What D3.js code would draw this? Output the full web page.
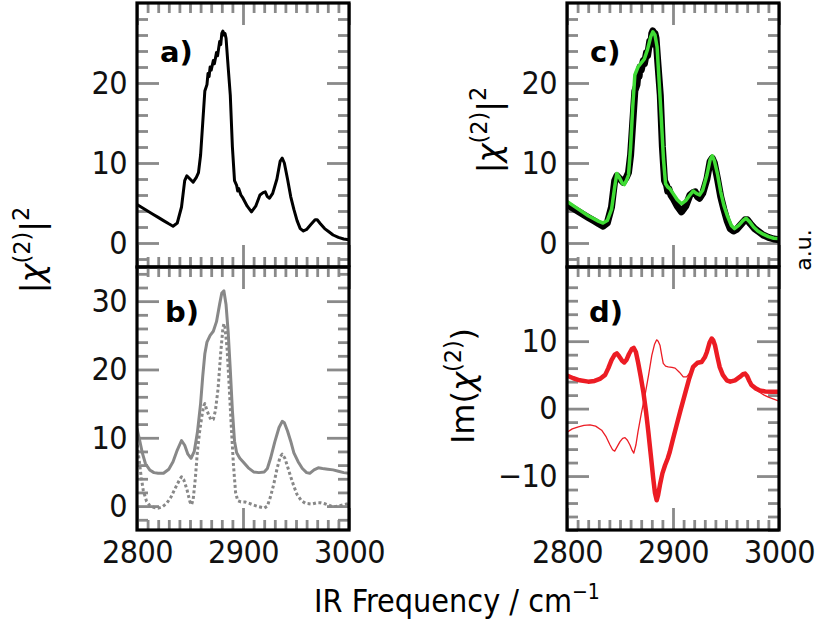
<!DOCTYPE html>
<html><head><meta charset="utf-8">
<script src="https://cdn.jsdelivr.net/npm/d3@7"></script>
<style>
body{margin:0;background:#fff;}
svg{display:block;}
</style></head>
<body>
<svg id="chart" width="815" height="626"></svg>
<script>
// ---- data ----
const xTicks = [2800, 2900, 3000];
const measuredFreq = [2800,2805,2810,2815,2820,2825,2830,2834,2838,2842,2845,2847,2850,2853,2856,2858,2860,2862,2864,2866,2867,2868,2869,2870,2872,2873,2875,2876,2878,2879,2880,2881,2882,2883,2884,2886,2888,2890,2892,2894,2895,2896,2898,2900,2904,2908,2912,2916,2919,2921,2923,2925,2928,2932,2935,2937,2939,2942,2945,2948,2951,2954,2957,2960,2964,2968,2970,2973,2977,2981,2985,2990,2995,3000];
const measuredVal = [4.8,4.4,4.0,3.6,3.2,2.8,2.4,2.1,2.5,4.5,7.8,8.4,8.0,7.6,8.2,8.8,11,15,19.0,19.8,21.2,20.8,22.0,21.6,22.8,22.4,23.8,23.4,25.2,24.8,26.2,26.5,26.0,26.2,25.6,22,18.5,12,7.8,7.2,6.5,6.8,6.0,5.6,4.6,3.9,4.6,6.0,6.3,6.4,5.8,5.6,6.2,8.0,10.2,10.6,10.0,8.0,5.8,4.2,2.8,1.8,1.5,1.7,2.3,2.9,2.9,2.4,1.8,1.4,1.0,0.7,0.5,0.4];

const fitFreq = [2800,2810,2820,2830,2834,2838,2842,2845,2847,2849,2852,2854,2856,2858,2860,2862,2864,2867,2870,2873,2876,2879,2881,2883,2885,2887,2889,2891,2893,2895,2897,2900,2904,2908,2912,2916,2919,2922,2925,2928,2932,2935,2937,2939,2942,2945,2948,2951,2955,2958,2962,2966,2969,2972,2976,2980,2985,2990,2995,3000];
const fitVal = [5.2,4.3,3.4,2.7,2.5,2.8,4.2,7.0,8.7,8.3,7.5,7.3,7.8,8.5,12,17,21.0,22.0,22.5,23.0,24.2,25.8,26.4,26.0,24.5,20,15.5,10.5,7.4,7.0,6.8,6.2,5.4,4.9,5.3,6.0,6.5,6.2,6.0,6.6,8.5,10.4,10.9,10.3,8.6,6.4,4.7,3.5,2.2,1.8,2.2,2.8,3.1,2.7,2.0,1.5,1.1,0.8,0.6,0.55];

const ampSolidFreq = [2800,2802,2805,2808,2812,2816,2820,2825,2830,2834,2838,2842,2845,2848,2851,2854,2857,2860,2862,2864,2866,2869,2872,2875,2878,2880,2882,2884,2886,2888,2890,2892,2894,2897,2900,2905,2910,2915,2920,2923,2926,2930,2934,2937,2939,2942,2945,2948,2952,2956,2960,2963,2967,2971,2975,2980,2985,2990,2995,3000];
const ampSolidVal = [11.3,10.0,7.8,6.2,5.3,4.9,4.8,4.8,5.4,6.5,8.2,9.6,8.9,7.6,7.0,8.0,10.8,15,19,22.3,24.0,25.0,25.6,27.0,29.6,31.2,31.5,29.5,25.5,20,14,9.5,7.8,7.0,6.5,5.6,5.0,4.9,5.0,5.5,7.0,9.4,11.5,12.4,12.2,11.0,9.5,7.8,6.5,5.5,4.9,4.8,5.3,5.6,5.5,5.4,5.3,5.1,4.9,4.8];

const ampDotFreq = [2800,2802,2804,2806,2809,2812,2816,2820,2824,2828,2832,2836,2840,2842,2844,2847,2850,2851.5,2853,2855,2857,2859,2861,2863,2864,2866,2868,2870,2872,2874,2876.5,2879,2881,2882,2883,2885,2887,2889,2891,2893,2895,2898,2902,2906,2910,2915,2920,2923,2926,2929,2932,2935,2937,2939.5,2942,2945,2948,2951,2955,2959,2965,2970,2973,2978,2985,2990,2995,3000];
const ampDotVal = [9.0,6.8,4.2,2.2,0.7,0.1,-0.2,-0.3,-0.1,0.4,1.3,2.6,3.8,4.3,3.9,2.5,0.6,0.2,1.0,4.0,8.0,10.8,13.0,14.7,15.0,14.0,13.2,12.6,12.7,14.0,17.2,22.5,26.0,26.7,26.2,23.0,17.5,11.5,6.0,2.0,0.8,0.6,0.6,0.4,0.15,-0.1,-0.3,0.0,1.4,3.2,5.4,7.2,7.6,7.0,5.8,4.3,2.9,1.7,0.8,0.4,0.3,0.5,0.5,0.3,-0.1,0.0,0.2,0.4];

const imFitFreq = [2800,2806,2812,2820,2826,2831,2836,2839,2842,2845,2847,2849,2852,2854,2856,2858.5,2861,2863,2865,2867,2869.5,2872,2874.5,2876.7,2879,2881.4,2883,2884.6,2886,2887.7,2890,2892.5,2895,2897,2900,2903.5,2907,2911,2915,2919,2923,2927,2930,2932,2934.5,2936.5,2938,2939.6,2942,2944,2947,2950.7,2954,2958.5,2963,2966,2968,2970,2972,2974,2978,2982,2987,2993,3000];
const imFitVal = [4.9,4.5,4.2,4.0,4.1,4.4,5.0,6.0,7.2,8.0,8.2,7.8,7.1,6.85,7.2,8.1,8.8,9.0,8.4,6.9,4.8,2.5,-0.4,-3.4,-6.8,-10.4,-12.5,-13.6,-12.8,-11.3,-9.6,-8.4,-7.4,-6.4,-4.5,-2.4,-0.3,2.0,4.3,6.2,6.8,6.9,7.6,8.4,9.8,10.4,10.1,9.4,7.6,6.2,5.0,4.2,4.0,4.2,4.7,5.1,5.2,4.8,4.1,3.5,3.0,2.7,2.55,2.5,2.5];

const imMeasFreq = [2800,2805,2810.7,2816,2821.7,2827,2832.7,2837,2840.6,2843,2845,2847.5,2850,2852.5,2854.7,2857,2859.4,2861.5,2863,2865,2867,2870,2873.6,2877,2880,2882.5,2884.6,2886,2887.7,2889.5,2890.8,2893,2895.5,2899,2902,2906,2909.7,2912.8,2915,2917.6,2922,2927,2930,2932,2934.5,2936.5,2938,2939.6,2942,2944,2947,2950.7,2954,2958.5,2963,2966,2968,2970,2972,2974,2978,2982,2986,2990,2995,3000];
const imMeasVal = [-3.5,-3.0,-2.7,-2.5,-2.4,-2.6,-3.2,-4.2,-5.4,-6.1,-6.3,-5.6,-4.9,-4.4,-4.3,-4.7,-5.4,-6.2,-6.6,-5.4,-3.4,-0.8,2.0,5.0,7.9,9.5,10.2,10.0,9.4,7.8,6.7,6.3,6.2,6.1,6.0,5.4,4.7,4.7,5.1,5.7,6.45,6.9,7.6,8.4,9.8,10.4,10.1,9.4,7.6,6.2,5.0,4.2,4.0,4.2,4.7,5.1,5.2,4.8,4.0,3.3,2.8,2.4,2.0,1.7,1.4,1.1];

const yTicksA = [0, 10, 20];
const yTicksB = [0, 10, 20, 30];
const yTicksD = [-10, 0, 10];

// ---- layout ----
const svg = d3.select("#chart");
const tickFont = "'DejaVu Sans Condensed','Liberation Sans Narrow','DejaVu Sans',sans-serif";
const TICKCOL = "#8a8a8a";

function pts(f, v){ return f.map((d,i)=>[d, v[i]]); }

function panel(cfg){
  const x = d3.scaleLinear().domain([2800, 3000]).range([cfg.x0, cfg.x1]);
  const y = d3.scaleLinear().domain(cfg.yDomain).range([cfg.y1, cfg.y0]);
  const g = svg.append("g");
  const clipId = "clip" + cfg.name;
  svg.append("defs").append("clipPath").attr("id", clipId)
    .append("rect").attr("x", cfg.x0).attr("y", cfg.y0).attr("width", cfg.x1-cfg.x0).attr("height", cfg.y1-cfg.y0);

  const minorX = d3.range(2810, 3000, 10).filter(v => v !== 2900);
  const minorY = d3.range(Math.ceil(cfg.yDomain[0]/2)*2, cfg.yDomain[1], 2).filter(v => v % 10 !== 0);

  const axG = g.append("g");
  axG.append("g").attr("transform", `translate(0,${cfg.y1})`)
    .call(d3.axisBottom(x).tickValues(xTicks).tickSize(-22).tickPadding(10).tickFormat(cfg.xLabels ? d3.format("d") : ""));
  axG.append("g").attr("transform", `translate(0,${cfg.y1})`)
    .call(d3.axisBottom(x).tickValues(minorX).tickSize(-10).tickFormat(""));
  axG.append("g").attr("transform", `translate(0,${cfg.y0})`)
    .call(d3.axisTop(x).tickValues(xTicks).tickSize(-22).tickFormat(""));
  axG.append("g").attr("transform", `translate(0,${cfg.y0})`)
    .call(d3.axisTop(x).tickValues(minorX).tickSize(-10).tickFormat(""));
  axG.append("g").attr("transform", `translate(${cfg.x0},0)`)
    .call(d3.axisLeft(y).tickValues(cfg.yTicks).tickSize(-22).tickPadding(10).tickFormat(d => d < 0 ? "\u2212" + Math.abs(d) : d));
  axG.append("g").attr("transform", `translate(${cfg.x0},0)`)
    .call(d3.axisLeft(y).tickValues(minorY).tickSize(-11).tickFormat(""));
  axG.append("g").attr("transform", `translate(${cfg.x1},0)`)
    .call(d3.axisRight(y).tickValues(cfg.yTicks).tickSize(-22).tickFormat(""));
  axG.append("g").attr("transform", `translate(${cfg.x1},0)`)
    .call(d3.axisRight(y).tickValues(minorY).tickSize(-11).tickFormat(""));
  axG.selectAll(".domain").remove();
  axG.selectAll(".tick line").attr("stroke", TICKCOL).attr("stroke-width", 2.8);
  axG.selectAll(".tick text").attr("font-family", tickFont).attr("font-size", 32)
    .attr("letter-spacing", -0.6).attr("fill", "#111");

  const line = d3.line().x(d => x(d[0])).y(d => y(d[1]));
  const lg = g.append("g").attr("clip-path", `url(#${clipId})`);
  cfg.series.forEach(s => {
    lg.append("path").datum(pts(s.f, s.v)).attr("d", line)
      .attr("fill", "none").attr("stroke", s.color).attr("stroke-width", s.w)
      .attr("stroke-linejoin", "round").attr("stroke-linecap", s.dash ? "butt" : "round")
      .attr("stroke-dasharray", s.dash || null);
  });

  g.append("rect").attr("x", cfg.x0).attr("y", cfg.y0).attr("width", cfg.x1-cfg.x0).attr("height", cfg.y1-cfg.y0)
    .attr("fill", "none").attr("stroke", "#000").attr("stroke-width", 3.2);

  g.append("text").attr("x", cfg.lx).attr("y", cfg.ly).text(cfg.label)
    .attr("font-family", "'DejaVu Sans',sans-serif").attr("font-weight", "bold").attr("font-size", 29).attr("fill", "#000");
}

panel({name:"a", x0:137, x1:349, y0:3, y1:267, yDomain:[-3, 30], yTicks:yTicksA, xLabels:false,
  label:"a)", lx:160, ly:62,
  series:[{f:measuredFreq, v:measuredVal, color:"#000", w:3}]});
panel({name:"b", x0:137, x1:349, y0:267, y1:530, yDomain:[-3.5, 35], yTicks:yTicksB, xLabels:true,
  label:"b)", lx:165, ly:322,
  series:[{f:ampSolidFreq, v:ampSolidVal, color:"#888", w:3},
          {f:ampDotFreq, v:ampDotVal, color:"#888", w:3, dash:"3,2.5"}]});
panel({name:"c", x0:567, x1:779, y0:3, y1:267, yDomain:[-3, 30], yTicks:yTicksA, xLabels:false,
  label:"c)", lx:590, ly:62,
  series:[{f:measuredFreq, v:measuredVal, color:"#000", w:7},
          {f:fitFreq, v:fitVal, color:"#3fdc34", w:3.5}]});
panel({name:"d", x0:567, x1:779, y0:267, y1:530, yDomain:[-18, 21], yTicks:yTicksD, xLabels:true,
  label:"d)", lx:589, ly:322,
  series:[{f:imFitFreq, v:imFitVal, color:"#ec1c24", w:4.5},
          {f:imMeasFreq, v:imMeasVal, color:"#ec1c24", w:1.3}]});

// ---- axis titles ----
const labFont = "'DejaVu Sans',sans-serif";
function chiLabel(xb, yc, prefix, suffix, supEnd, size){
  const t = svg.append("text").attr("transform", `translate(${xb},${yc}) rotate(-90)`)
    .attr("text-anchor", "middle").attr("font-family", labFont).attr("font-size", size).attr("fill", "#000");
  t.append("tspan").text(prefix);
  t.append("tspan").attr("font-style", "italic").text("\u03C7");
  t.append("tspan").attr("font-size", size*0.7).attr("dy", -size*0.4).text("(2)");
  t.append("tspan").attr("dy", size*0.4).text(suffix);
  if (supEnd) t.append("tspan").attr("font-size", size*0.7).attr("dy", -size*0.45).text(supEnd);
}
chiLabel(43, 250, "|", "|", "2", 32);
chiLabel(500, 130, "|", "|", "2", 32);
chiLabel(474, 386, "Im(", ")", null, 32);

svg.append("text").attr("transform", "translate(811,250) rotate(-90)").attr("text-anchor", "middle")
  .attr("font-family", labFont).attr("font-size", 22).attr("fill", "#000").text("a.u.");

const xt = svg.append("text").attr("x", 457).attr("y", 612).attr("text-anchor", "middle")
  .attr("font-family", tickFont).attr("font-size", 32).attr("fill", "#000");
xt.append("tspan").text("IR Frequency / cm");
xt.append("tspan").attr("font-size", 21).attr("dy", -13).text("\u22121");
</script>
</body></html>
